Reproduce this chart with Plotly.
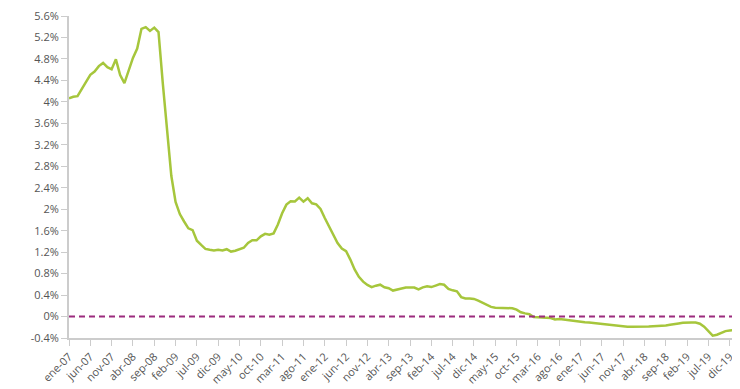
import plotly.graph_objects as go

months_es = ["ene", "feb", "mar", "abr", "may", "jun", "jul", "ago", "sep", "oct", "nov", "dic"]
years = list(range(7, 21))
categories = [f"{m}-{y:02d}" for y in years for m in months_es][:157]  # ene-07 .. ene-20

euribor = [
    # 2007
    4.064, 4.094, 4.106, 4.253, 4.373, 4.505, 4.564, 4.666, 4.725, 4.647, 4.607, 4.793,
    # 2008
    4.498, 4.349, 4.590, 4.820, 4.994, 5.361, 5.393, 5.323, 5.384, 5.300, 4.350, 3.452,
    # 2009
    2.622, 2.135, 1.909, 1.771, 1.644, 1.610, 1.412, 1.334, 1.261, 1.243, 1.231, 1.242,
    # 2010
    1.232, 1.255, 1.210, 1.225, 1.249, 1.281, 1.373, 1.421, 1.420, 1.495, 1.541, 1.526,
    # 2011
    1.550, 1.714, 1.924, 2.086, 2.147, 2.144, 2.215, 2.140, 2.205, 2.110, 2.090, 2.004,
    # 2012
    1.837, 1.678, 1.499, 1.368, 1.266, 1.219, 1.061, 0.877, 0.740, 0.650, 0.588, 0.549,
    # 2013
    0.575, 0.594, 0.545, 0.528, 0.484, 0.507, 0.525, 0.542, 0.543, 0.541, 0.506, 0.543,
    # 2014
    0.562, 0.549, 0.577, 0.604, 0.592, 0.513, 0.488, 0.469, 0.362, 0.338, 0.335, 0.329,
    # 2015
    0.298, 0.255, 0.212, 0.180, 0.165, 0.163, 0.167, 0.161, 0.154, 0.128, 0.079, 0.059,
    # 2016
    0.042, -0.008, -0.012, -0.010, -0.013, -0.028, -0.056, -0.048, -0.057, -0.069, -0.074, -0.080,
    # 2017
    -0.095, -0.106, -0.110, -0.119, -0.127, -0.149, -0.154, -0.156, -0.168, -0.180, -0.189, -0.190,
    # 2018
    -0.189, -0.191, -0.191, -0.190, -0.188, -0.181, -0.180, -0.169, -0.166, -0.154, -0.147, -0.129,
    # 2019
    -0.116, -0.108, -0.109, -0.112, -0.134, -0.190, -0.283, -0.356, -0.339, -0.304, -0.272, -0.261,
    # 2020
    -0.253,
]

tick_labels = categories[::5]
y_ticks = [-0.4, 0, 0.4, 0.8, 1.2, 1.6, 2, 2.4, 2.8, 3.2, 3.6, 4, 4.4, 4.8, 5.2, 5.6]
y_tick_text = [f"{v:g}%" for v in y_ticks]

# the page body has an 8px margin, so the figure is sized/margined to compensate
W, H = 732, 381
L, R, T, B = 61, 6, 8, 51

fig = go.Figure()
fig.add_trace(go.Scatter(
    x=categories, y=euribor, mode="lines",
    line=dict(color="#a6c63c", width=2.5),
    showlegend=False,
))
fig.add_shape(type="line", xref="paper", yref="y", x0=0, x1=1, y0=0, y1=0,
              line=dict(color="#9c2b7e", width=2, dash="6px,4px"))

axis_font = dict(family="Open Sans, Lato, sans-serif", size=11, color="#555555")

fig.update_layout(
    width=W, height=H,
    margin=dict(l=L, r=R, t=T, b=B, pad=0, autoexpand=False),
    paper_bgcolor="white", plot_bgcolor="white",
    xaxis=dict(
        type="category", range=[0, len(categories) - 1], automargin=False,
        tickmode="array", tickvals=tick_labels, ticktext=tick_labels,
        tickangle=-45, tickfont=axis_font, ticklabeloverflow="allow",
        showline=True, linecolor="#cccccc", linewidth=2,
        ticks="outside", ticklen=6, tickcolor="#cccccc", tickwidth=1,
        showgrid=False, zeroline=False,
    ),
    yaxis=dict(
        range=[-0.4, 5.6], tickmode="array", tickvals=y_ticks, ticktext=y_tick_text,
        automargin=False, tickfont=axis_font, ticklabeloverflow="allow",
        showline=True, linecolor="#cccccc", linewidth=2,
        ticks="outside", ticklen=6, tickcolor="#cccccc", tickwidth=1,
        showgrid=False, zeroline=False,
    ),
)

fig.write_html("out.html")
